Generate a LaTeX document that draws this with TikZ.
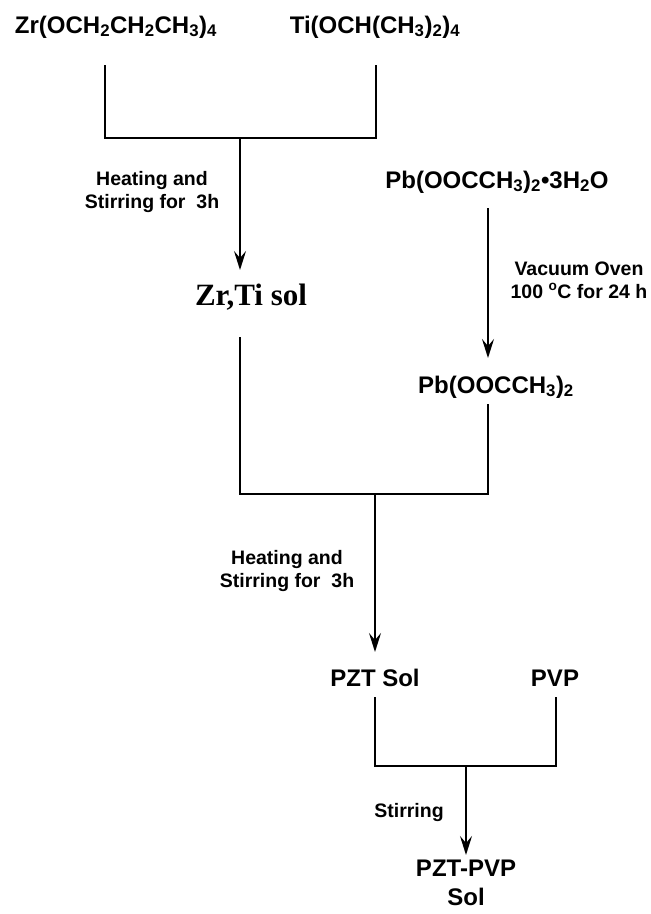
\documentclass[tikz,border=0pt]{standalone}
\usepackage{fontspec}
\setmainfont{Liberation Sans}
\newfontfamily\serifbold{Liberation Serif}
\usetikzlibrary{arrows.meta}

\tikzset{
    chem/.style={font=\bfseries\fontsize{24}{27}\selectfont, inner sep=0pt, anchor=base},
    cond/.style={font=\bfseries\fontsize{19.5}{23}\selectfont, inner sep=0pt, align=center},
    flow/.style={line width=1.8pt},
    flowarr/.style={flow, -{Stealth[length=19pt, width=12pt, inset=7pt]}}
}

\begin{document}
\begin{tikzpicture}[x=1pt, y=-1pt]

    \useasboundingbox (0,0) rectangle (651,914);

    % starting materials
    \node[chem] (zr) at (116,33) {Zr(OCH\textsubscript{2}CH\textsubscript{2}CH\textsubscript{3})\textsubscript{4}};
    \node[chem] (ti) at (375,33) {Ti(OCH(CH\textsubscript{3})\textsubscript{2})\textsubscript{4}};
    \node[chem] (pbw) at (497,188) {Pb(OOCCH\textsubscript{3})\textsubscript{2}\textbullet 3H\textsubscript{2}O};

    % intermediates
    \node[inner sep=0pt, anchor=base, font=\serifbold\bfseries\fontsize{31}{33}\selectfont] (zrti) at (251,305) {Zr,Ti sol};
    \node[chem] (pb) at (496,393) {Pb(OOCCH\textsubscript{3})\textsubscript{2}};
    \node[chem] (pzt) at (375,686) {PZT Sol};
    \node[chem] (pvp) at (555,686) {PVP};
    \node[chem, anchor=north, align=center, font=\bfseries\fontsize{24}{29}\selectfont] (pztpvp) at (466,860) {PZT-PVP\\Sol};

    % process conditions
    \node[cond] (heatA) at (152,192) {Heating and\\Stirring for\ \ 3h};
    \node[cond] (vac) at (579,280) {Vacuum Oven\\100 \textsuperscript{o}C for 24 h};
    \node[cond] (heatB) at (287,571) {Heating and\\Stirring for\ \ 3h};
    \node[cond, anchor=base] (stir) at (409,817) {Stirring};

    % line ends
    \coordinate (zrEnd) at (105,65);
    \coordinate (tiEnd) at (376,65);
    \coordinate (joinA) at (240,138);
    \coordinate (zrtiTip) at (240,270);
    \coordinate (zrtiEnd) at (240,337);
    \coordinate (pbwEnd) at (488,208);
    \coordinate (pbTip) at (488,358);
    \coordinate (pbEnd) at (488,404);
    \coordinate (joinB) at (375,494);
    \coordinate (pztTip) at (375,652);
    \coordinate (pztEnd) at (375,697);
    \coordinate (pvpEnd) at (556,697);
    \coordinate (joinC) at (466,766);
    \coordinate (pztpvpTip) at (466,855);

    % first mixing
    \draw[flow] (zrEnd) |- (joinA) -| (tiEnd);
    \draw[flowarr] (joinA) -- (zrtiTip);

    % drying
    \draw[flowarr] (pbwEnd) -- (pbTip);

    % second mixing
    \draw[flow] (zrtiEnd) |- (joinB) -| (pbEnd);
    \draw[flowarr] (joinB) -- (pztTip);

    % third mixing
    \draw[flow] (pztEnd) |- (joinC) -| (pvpEnd);
    \draw[flowarr] (joinC) -- (pztpvpTip);

\end{tikzpicture}
\end{document}
